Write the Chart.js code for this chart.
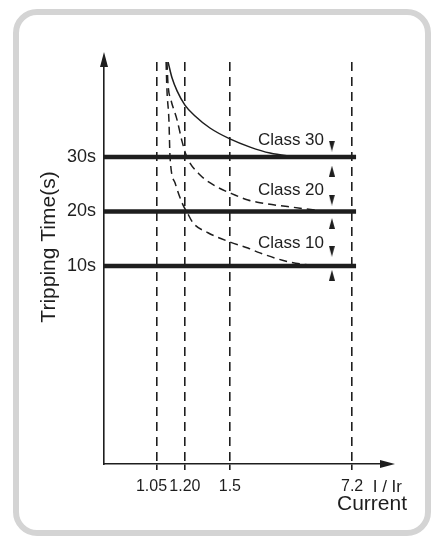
<!DOCTYPE html>
<html>
<head>
<meta charset="utf-8">
<script src="https://cdn.jsdelivr.net/npm/chart.js@4"></script>
<style>
  body { margin: 0; background: #fff; }
  #frame {
    position: absolute; left: 13px; top: 9px;
    width: 406px; height: 515px;
    border: 6px solid #d4d4d4; border-radius: 24px;
  }
  #myChart { position: absolute; left: 0; top: 0; }
</style>
</head>
<body>
<div id="frame"></div>
<canvas id="myChart" width="437" height="540"></canvas>
<script>
// x axis is not to scale: each I/Ir mark sits at a schematic position (0..100)
const currentLabels = ['1.05', '1.20', '1.5', '7.2']
const currentPos = [18.9, 28.8, 44.8, 88.3]

// tripping time ticks, seconds
const timeTicks = [10, 20, 30]
const classNames = ['Class 30', 'Class 20', 'Class 10']
const classTimes = [30, 20, 10]
const classLineEnd = 89.7

// tripping curves
const class30X = [22.8, 24.2, 26.0, 28.8, 32.4, 37.7, 44.8, 52.0, 59.1, 68.0]
const class30Y = [47.4, 44.5, 42.1, 39.5, 37.5, 35.3, 33.3, 31.8, 30.7, 30.0]
const class20X = [22.4, 22.8, 23.8, 26.0, 27.8, 29.5, 34.2, 40.2, 44.8, 51.2, 55.5, 69.8, 78.6]
const class20Y = [47.4, 43.2, 40.5, 36.8, 32.8, 30.0, 26.7, 24.5, 23.4, 22.1, 21.6, 20.6, 20.0]
const class10X = [22.1, 22.4, 23.1, 23.5, 25.3, 28.1, 29.5, 31.7, 37.0, 44.8, 51.2, 55.5, 66.2, 76.9]
const class10Y = [47.4, 42.3, 36.8, 30.0, 25.2, 21.2, 19.9, 17.9, 16.1, 14.4, 13.3, 12.4, 10.7, 10.0]

// band markers and class captions
const markerX = 81.1
const markerDown = [32.0, 22.1, 12.7]
const markerUp = [27.4, 17.8, 8.3]
const captionX = 78.3
const captionY = [32.2, 23.0, 13.3]

const ink = '#1e1e1e'
const font = '"Liberation Sans", Arial, sans-serif'
Chart.defaults.font.family = font
Chart.defaults.color = ink

const toPoints = (xs, ys) => xs.map((x, i) => ({ x: x, y: ys[i] }))

// small slim arrowhead used as point style
const arrowHead = () => {
  const c = document.createElement('canvas')
  c.width = 6
  c.height = 11
  const g = c.getContext('2d')
  g.fillStyle = ink
  g.beginPath()
  g.moveTo(3, 0)
  g.lineTo(6, 11)
  g.lineTo(0, 11)
  g.closePath()
  g.fill()
  return c
}
const arrowImg = arrowHead()

const decorations = {
  id: 'decorations',
  afterDraw(chart) {
    const { ctx, chartArea: a, scales: { x, y } } = chart
    ctx.save()
    ctx.fillStyle = ink
    // axis arrows
    ctx.beginPath()
    ctx.moveTo(a.left, a.top - 10)
    ctx.lineTo(a.left - 4, a.top + 5)
    ctx.lineTo(a.left + 4, a.top + 5)
    ctx.fill()
    ctx.beginPath()
    ctx.moveTo(a.right + 10, a.bottom)
    ctx.lineTo(a.right - 5, a.bottom - 4)
    ctx.lineTo(a.right - 5, a.bottom + 4)
    ctx.fill()
    // current tick labels (1.05 and 1.20 sit close, so 1.05 hangs left of its line)
    ctx.font = '16px ' + font
    ctx.textBaseline = 'middle'
    currentLabels.forEach((lab, i) => {
      const px = x.getPixelForValue(currentPos[i])
      ctx.textAlign = i === 0 ? 'right' : 'center'
      ctx.fillText(lab, i === 0 ? px + 10 : px, a.bottom + 23)
    })
    // class captions
    ctx.font = '17px ' + font
    ctx.textAlign = 'right'
    ctx.textBaseline = 'alphabetic'
    classNames.forEach((name, i) => {
      ctx.fillText(name, x.getPixelForValue(captionX), y.getPixelForValue(captionY[i]))
    })
    // axis names
    ctx.textBaseline = 'middle'
    ctx.fillText('I / Ir', a.right + 17, a.bottom + 23)
    ctx.font = '21px ' + font
    ctx.fillText('Current', a.right + 22, a.bottom + 40)
    ctx.translate(a.left - 55, (a.top + a.bottom) / 2 - 16)
    ctx.rotate(-Math.PI / 2)
    ctx.textAlign = 'center'
    ctx.fillText('Tripping Time(s)', 0, 0)
    ctx.restore()
  }
}

const bandLines = classTimes.map(t => ({
  data: [{ x: 0, y: t }, { x: classLineEnd, y: t }],
  borderColor: ink,
  borderWidth: 4.5,
  showLine: true,
  pointRadius: 0
}))

const curve = (xs, ys, dash) => ({
  data: toPoints(xs, ys),
  borderColor: ink,
  borderWidth: 1.5,
  borderDash: dash,
  showLine: true,
  cubicInterpolationMode: 'monotone',
  pointRadius: 0
})

const markers = (ys, rotation) => ({
  data: ys.map(v => ({ x: markerX, y: v })),
  pointStyle: arrowImg,
  rotation: rotation,
  pointRadius: 5,
  showLine: false
})

const ctx = document.getElementById('myChart').getContext('2d')
const chart = new Chart(ctx, {
  type: 'scatter',
  data: {
    datasets: [
      ...bandLines,
      curve(class30X, class30Y, []),
      curve(class20X, class20Y, [8, 5]),
      curve(class10X, class10Y, [8, 5]),
      markers(markerDown, 180),
      markers(markerUp, 0)
    ]
  },
  options: {
    responsive: false,
    animation: false,
    events: [],
    layout: { padding: { left: 44, top: 62, right: 52, bottom: 0 } },
    plugins: { legend: { display: false }, tooltip: { enabled: false } },
    scales: {
      x: {
        type: 'linear',
        min: 0,
        max: 100,
        afterBuildTicks: s => { s.ticks = currentPos.map(v => ({ value: v })) },
        afterFit: s => { s.height = 76 },
        ticks: { display: false },
        grid: { color: ink, lineWidth: 1.6, tickLength: 6 },
        border: { display: true, color: ink, width: 1.6, dash: [9, 6] }
      },
      y: {
        type: 'linear',
        min: -26.3,
        max: 47.4,
        afterBuildTicks: s => { s.ticks = timeTicks.map(v => ({ value: v })) },
        afterFit: s => { s.width = 60 },
        ticks: { padding: 8, font: { size: 18 }, callback: v => v + 's' },
        grid: { display: false, drawTicks: false },
        border: { display: true, color: ink, width: 1.6 }
      }
    }
  },
  plugins: [decorations]
})
</script>
</body>
</html>
